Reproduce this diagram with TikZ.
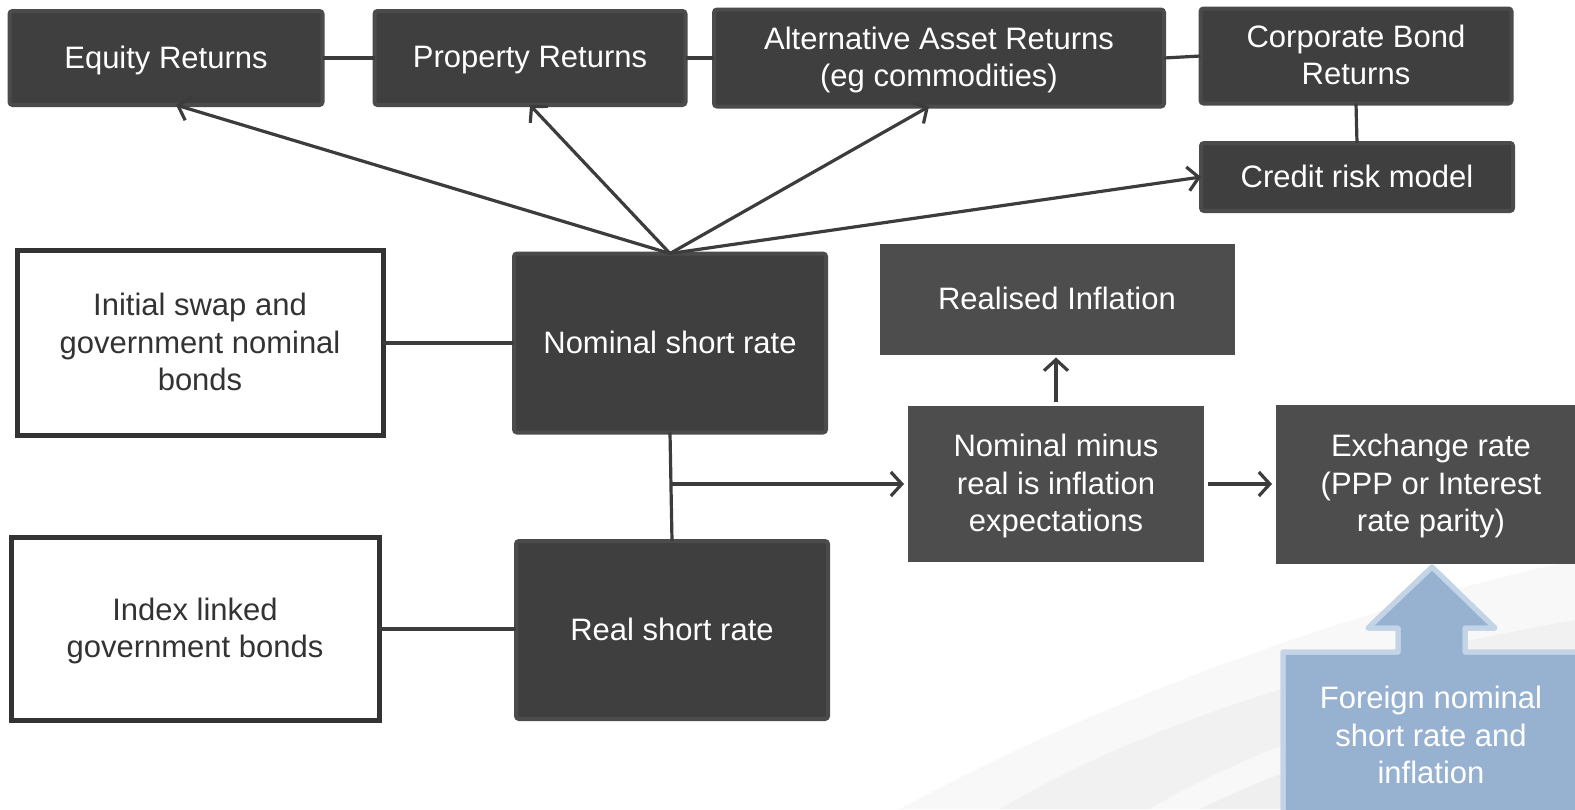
\documentclass[tikz,border=0pt]{standalone}
\usepackage{fontspec}
\setmainfont{Liberation Sans}
\usetikzlibrary{arrows.meta}
\definecolor{boxdark}{HTML}{3F3F3F}
\definecolor{boxedge}{HTML}{4B4B4B}
\definecolor{boxmid}{HTML}{4D4D4D}
\definecolor{linec}{HTML}{3C3C3C}
\definecolor{wedge}{HTML}{333333}
\definecolor{bluefill}{HTML}{97B1D1}
\definecolor{blueedge}{HTML}{C3D4E7}
\definecolor{swoosh}{HTML}{DADADA}
\begin{document}
\begin{tikzpicture}[x=1pt,y=-1pt,
  lbl/.style={font=\fontsize{31}{37.5}\selectfont, align=center, inner sep=0pt, outer sep=0pt, text depth=2pt},
  darkbox/.style={lbl, fill=boxdark, draw=boxedge, line width=4pt, rounded corners=3pt, text=white},
  flatbox/.style={lbl, fill=boxmid, text=white},
  whitebox/.style={lbl, fill=white, draw=wedge, line width=5pt, text=black!80},
  conn/.style={draw=linec, line width=3.2pt},
  arr/.style={conn, -{Straight Barb[length=11pt,width=24pt,line width=3.2pt]}},
  bluecall/.style={fill=bluefill, draw=blueedge, line width=5pt, line join=round}
]
\clip (0,0) rectangle (1575,809);
\fill[white] (0,0) rectangle (1575,809);
% faint background swoosh
\fill[swoosh, opacity=0.18] (900,809) .. controls (1100,700) and (1350,610) .. (1575,560) -- (1575,809) -- cycle;
\fill[swoosh, opacity=0.22] (1000,809) .. controls (1150,720) and (1350,660) .. (1575,620) -- (1575,660) .. controls (1380,700) and (1230,760) .. (1150,809) -- cycle;
\fill[swoosh, opacity=0.28] (1200,809) .. controls (1320,750) and (1460,715) .. (1575,700) -- (1575,809) -- cycle;

% top row
\node[darkbox, minimum width=313pt, minimum height=94pt] (eq) at (166,58) {Equity Returns};
\node[darkbox, minimum width=311pt, minimum height=94pt] (pr) at (530,58) {Property Returns};
\node[darkbox, minimum width=450pt, minimum height=97pt] (alt) at (939,58) {Alternative Asset Returns\\(eg commodities)};
\node[darkbox, minimum width=311pt, minimum height=95pt] (cb) at (1356,56) {Corporate Bond\\Returns};
\node[darkbox, minimum width=312pt, minimum height=68pt] (cr) at (1357,177) {Credit risk model};

% middle
\node[whitebox, minimum width=366pt, minimum height=185pt] (init) at (200,343) {Initial swap and\\government nominal\\bonds};
\node[darkbox, minimum width=312pt, minimum height=179pt] (nom) at (670,343) {Nominal short rate};
\node[flatbox, minimum width=355pt, minimum height=111pt] (real) at (1057,299) {Realised Inflation};
\node[flatbox, minimum width=296pt, minimum height=156pt] (nmr) at (1056,484) {Nominal minus\\real is inflation\\expectations};
\node[flatbox, minimum width=310pt, minimum height=159pt] (fx) at (1431,484) {Exchange rate\\(PPP or Interest\\rate parity)};

% bottom
\node[whitebox, minimum width=368pt, minimum height=183pt] (idx) at (195,629) {Index linked\\government bonds};
\node[darkbox, minimum width=312pt, minimum height=178pt] (rsr) at (672,630) {Real short rate};

% blue callout
\fill[bluecall] (1283,652) -- (1398,652) -- (1398,628) -- (1368,628) -- (1432,567) -- (1495,628) -- (1465,628) -- (1465,652) -- (1600,652) -- (1600,840) -- (1283,840) -- cycle;
\draw[blueedge, line width=5pt, line join=round] (1600,652) -- (1465,652) -- (1465,628) -- (1495,628) -- (1432,567) -- (1368,628) -- (1398,628) -- (1398,652) -- (1283,652) -- (1283,840);
\node[lbl, text=white] (for) at (1431,736) {Foreign nominal\\short rate and\\inflation};

% connectors
\draw[conn] (eq.east) -- (pr.west);
\draw[conn] (pr.west -| pr.east) -- (alt.west);
\draw[conn] (alt.east) -- (cb.west);
\draw[conn] (cb.south) -- (cr.north);
\coordinate (top) at (nom.north);
\draw[arr] (top) -- ([xshift=10pt]eq.south);
\draw[arr] (top) -- (pr.south);
\draw[arr] (top) -- ([xshift=-10pt]alt.south);
\draw[arr] (top) -- (cr.west);
\draw[conn] (init.east) -- (init.east -| nom.west);
\draw[conn] (idx.east) -- (idx.east -| rsr.west);
\draw[conn] (nom.south) -- (rsr.north);
\coordinate (br) at (671,484);
\draw[arr, shorten >=4pt] (br) -- (nmr.west);
\draw[arr, shorten <=4pt, shorten >=4pt] (nmr.east) -- (fx.west);
\draw[arr, shorten <=4pt, shorten >=3pt] (nmr.north) -- (nmr.north |- real.south);
\end{tikzpicture}
\end{document}
